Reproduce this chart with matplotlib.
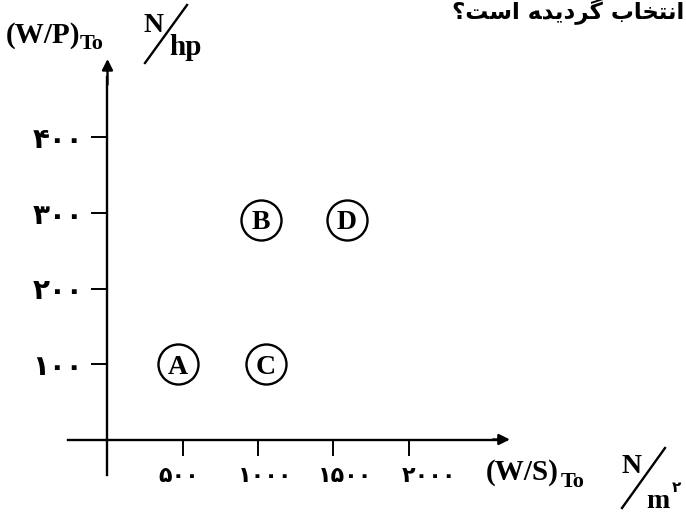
import matplotlib.pyplot as plt
from matplotlib.lines import Line2D

# Data
points = ["A", "B", "C", "D"]
ws_values = [465, 1020, 1050, 1590]      # (W/S)To, N/m^2
wp_values = [100, 291, 100, 291]         # (W/P)To, N/hp

x_ticks = [500, 1000, 1500, 2000]
x_tick_labels = ["۵۰۰", "۱۰۰۰", "۱۵۰۰", "۲۰۰۰"]
y_ticks = [100, 200, 300, 400]
y_tick_labels = ["۱۰۰", "۲۰۰", "۳۰۰", "۴۰۰"]

# Persian question text (presentation forms, visual order)
title_text = "؟ﺖﺳﺍ ﻪﺪﯾﺩﺮﮔ ﺏﺎﺨﺘﻧﺍ"

W, H = 686, 513
SERIF = "Liberation Serif"
PERSIAN = "DejaVu Sans"


def px(x, y):
    return x / W, 1 - y / H


fig = plt.figure(figsize=(W / 100, H / 100), dpi=100)
ax = fig.add_axes([0, 0, 1, 1])

# pixel -> data mapping (origin at pixel 107.5, 439.5)
x0, sx = 107.5, 0.1506
y0, sy = 439.5, 0.755
ax.set_xlim(-x0 / sx, (W - x0) / sx)
ax.set_ylim((y0 - H) / sy, y0 / sy)

# axis lines
for side in ["top", "right"]:
    ax.spines[side].set_visible(False)
ax.spines["left"].set_position(("data", 0))
ax.spines["bottom"].set_position(("data", 0))
ax.spines["left"].set_bounds(-47, 480)
ax.spines["bottom"].set_bounds(-260, 2620)
for side in ["left", "bottom"]:
    ax.spines[side].set_linewidth(1.7)

ax.annotate("", xy=(0, 504), xytext=(0, 470),
            arrowprops=dict(arrowstyle="-|>", color="black", lw=1.7,
                            mutation_scale=16, shrinkA=0, shrinkB=0))
ax.annotate("", xy=(2672, 0), xytext=(2560, 0),
            arrowprops=dict(arrowstyle="-|>", color="black", lw=1.7,
                            mutation_scale=16, shrinkA=0, shrinkB=0))

# ticks
ax.set_xticks(x_ticks)
ax.set_xticklabels([])
ax.set_yticks(y_ticks)
ax.set_yticklabels(y_tick_labels, fontsize=20, fontweight="bold",
                   family=PERSIAN)
ax.tick_params(axis="both", direction="out", length=11.5, width=1.4,
               color="black")
ax.tick_params(axis="y", pad=6)

label_dx = [-4, 7, 12, 20]
for xv, lab, dx in zip(x_ticks, x_tick_labels, label_dx):
    ax.annotate(lab, xy=(xv, 0), xytext=(dx * 0.72, -26),
                textcoords="offset points", ha="center", va="center",
                fontsize=16, fontweight="bold", family=PERSIAN)

# circled points
ax.scatter(ws_values, wp_values, s=830, facecolors="white",
           edgecolors="black", linewidths=1.7, zorder=3, clip_on=False)
for name, xv, yv in zip(points, ws_values, wp_values):
    ax.text(xv, yv, name, ha="center", va="center_baseline", fontsize=20,
            family=SERIF, fontweight="bold", zorder=4)

# y axis label: (W/P)To  N/hp
fig.text(*px(6, 43), "(W/P)", fontsize=21, family=SERIF, fontweight="bold",
         va="baseline")
fig.text(*px(80, 49), "To", fontsize=16, family=SERIF, fontweight="bold",
         va="baseline")
fig.text(*px(143, 32), "N", fontsize=20, family=SERIF, fontweight="bold",
         va="baseline")
fig.add_artist(Line2D([187 / W, 145 / W], [1 - 5 / H, 1 - 63 / H],
                      lw=1.7, color="black"))
fig.text(*px(169, 55), "hp", fontsize=21, family=SERIF, fontweight="bold",
         va="baseline")

# x axis label: (W/S)To  N/m2
fig.text(*px(486, 480), "(W/S)", fontsize=21, family=SERIF, fontweight="bold",
         va="baseline")
fig.text(*px(561, 487), "To", fontsize=16, family=SERIF, fontweight="bold",
         va="baseline")
fig.text(*px(622, 473), "N", fontsize=20, family=SERIF, fontweight="bold",
         va="baseline")
fig.add_artist(Line2D([665 / W, 622 / W], [1 - 448 / H, 1 - 508 / H],
                      lw=1.7, color="black"))
fig.text(*px(646, 508), "m", fontsize=20, family=SERIF, fontweight="bold",
         va="baseline")
fig.text(*px(672, 492), "۲", fontsize=11, family=PERSIAN, fontweight="bold",
         va="baseline")

# Persian text at the top right
fig.text(*px(684, 12), title_text, fontsize=16.5, family=PERSIAN,
         fontweight="bold", ha="right", va="center")

fig.savefig("out.png", dpi=100)
